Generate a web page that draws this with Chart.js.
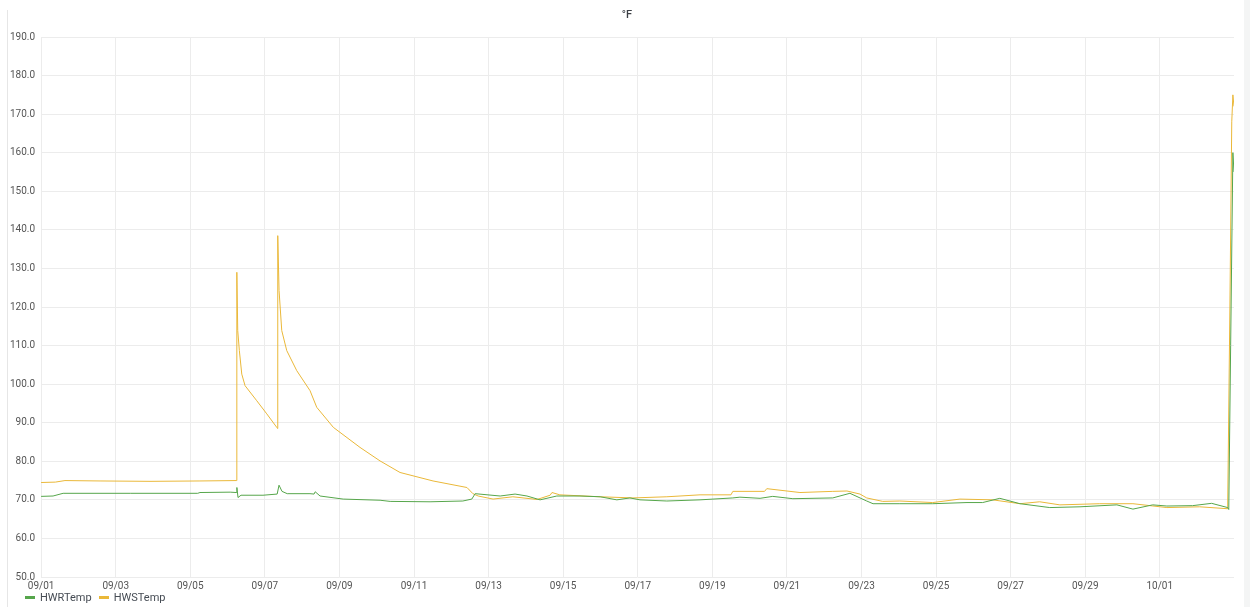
<!DOCTYPE html>
<html>
<head>
<meta charset="utf-8">
<script src="https://cdn.jsdelivr.net/npm/chart.js@4"></script>
<style>
html,body{margin:0;padding:0;background:#fff;}
#wrap{position:absolute;left:0;top:0;width:1250px;height:607px;}
#edgeL{position:absolute;left:7px;top:10px;width:1px;height:597px;background:#e6e6e6;}
#edgeR{position:absolute;left:1244px;top:0;width:6px;height:607px;background:#f4f5f5;}
#title{position:absolute;left:0;width:1254px;top:8px;text-align:center;font:500 11px Roboto,sans-serif;color:#3b3f45;}
#legend{position:absolute;left:25px;top:591px;font:11px Roboto,sans-serif;color:#464c54;white-space:nowrap;}
#legend span.item{display:inline-block;margin-right:7px;line-height:14px;}
#legend i{display:inline-block;width:10px;height:3px;vertical-align:middle;margin-right:5px;margin-top:-2px;}
</style>
</head>
<body>
<div id="wrap"><canvas id="tempChart" width="1250" height="607"></canvas></div>
<div id="edgeL"></div><div id="edgeR"></div>
<div id="title">°F</div>
<div id="legend"></div>
<script>
// days since 09/01 00:00
const hwsDays = [0,0.38,0.64,1.58,2.92,4.26,5.23,5.247,5.25,5.273,5.316,5.381,5.469,5.783,6.051,6.319,6.34,6.346,6.381,6.453,6.587,6.855,7.212,7.391,7.836,8.552,9.088,9.625,10.51,11.42,11.58,11.72,12.12,12.65,13.3,13.65,13.7,13.91,14.99,15.87,16.78,17.67,18.5,18.55,19.4,19.46,20.35,21.23,21.61,21.96,22.14,22.57,23.03,23.91,24.64,25.52,26.25,26.78,27.32,28.39,29.28,30.19,31.07,31.82,31.88,31.93,31.96,31.99];
const hwsTemp = [74.5,74.6,75.0,74.9,74.8,74.9,75.0,75.0,129.0,113.9,108.7,102.6,99.6,95.7,92.3,88.8,88.5,138.5,124.3,113.9,108.7,103.5,98.3,94.0,88.8,83.6,80.1,77.1,74.9,73.2,71.6,71.0,70.2,70.8,70.1,71.2,71.9,71.3,70.8,70.5,70.8,71.3,71.3,72.2,72.2,72.9,71.9,72.2,72.3,71.5,70.5,69.6,69.7,69.3,70.2,70.0,69.0,69.5,68.7,69.0,69.0,68.0,68.2,67.7,120.0,168.0,175.0,172.0];

const hwrDays = [0,0.32,0.59,2.39,4.2,4.26,5.07,5.23,5.25,5.28,5.36,5.95,6.33,6.38,6.46,6.6,7.21,7.32,7.35,7.48,8.1,9.09,9.36,10.43,11.31,11.55,11.64,12.31,12.71,13.03,13.38,13.83,14.45,14.99,15.44,15.79,16.06,16.78,17.67,18.55,18.74,19.28,19.62,20.16,21.23,21.69,22.14,22.31,23.03,23.91,24.83,25.25,25.71,26.25,27.05,27.86,28.85,29.28,29.81,30.19,30.88,31.39,31.82,31.85,31.9,31.96,31.99];
const hwrTemp = [70.9,71.0,71.7,71.7,71.7,71.9,72.0,71.9,73.2,70.6,71.2,71.2,71.5,73.8,72.2,71.6,71.6,71.5,72.1,71.0,70.2,69.9,69.6,69.5,69.7,70.2,71.6,71.0,71.5,71.0,70.0,71.0,71.0,70.8,70.0,70.5,70.0,69.7,70.0,70.5,70.7,70.4,70.9,70.3,70.5,71.7,69.7,69.0,69.0,69.0,69.3,69.3,70.4,69.0,68.0,68.2,68.7,67.6,68.7,68.4,68.5,69.1,68.0,67.5,110.0,160.0,155.0];

const yTicks = [50,60,70,80,90,100,110,120,130,140,150,160,170,180,190];
const startDate = new Date(2023, 8, 1);

function pts(xs, ys){ return xs.map((x,i)=>({x:x,y:ys[i]})); }
function dayLabel(v){
  const d = new Date(startDate.getTime() + v*86400000);
  return String(d.getMonth()+1).padStart(2,'0') + '/' + String(d.getDate()).padStart(2,'0');
}

const ctx = document.getElementById('tempChart').getContext('2d');
const chart = new Chart(ctx, {type:'line',
  data:{datasets:[
    {label:'HWRTemp',data:pts(hwrDays,hwrTemp),borderColor:'#56A64B',backgroundColor:'#56A64B',borderWidth:1,pointRadius:0,tension:0},
    {label:'HWSTemp',data:pts(hwsDays,hwsTemp),borderColor:'#EAB839',backgroundColor:'#EAB839',borderWidth:1,pointRadius:0,tension:0}
  ]},
  options:{responsive:false,animation:false,
    layout:{padding:{left:4,right:16,top:37,bottom:12}},
    plugins:{
      legend:{display:false},
      tooltip:{enabled:false}
    },
    scales:{
      x:{type:'linear',min:0,max:31.99,
        grid:{color:'#ececec',drawTicks:false},border:{display:false},
        ticks:{stepSize:2,includeBounds:false,padding:3,maxRotation:0,color:'#555',font:{family:'Roboto',size:10},callback:(v)=>dayLabel(v)}},
      y:{min:50,max:190,
        grid:{color:'#ececec',drawTicks:false},border:{display:false},
        afterBuildTicks:(s)=>{s.ticks=yTicks.map(v=>({value:v}));},
        ticks:{padding:6,color:'#555',font:{family:'Roboto',size:10},callback:(v)=>v.toFixed(1)}}
    }
  }
});

// legend below the plot, like the dashboard panel
document.getElementById('legend').innerHTML = chart.data.datasets.map(ds =>
  '<span class="item"><i style="background:' + ds.borderColor + '"></i>' + ds.label + '</span>').join('');
</script>
</body>
</html>
